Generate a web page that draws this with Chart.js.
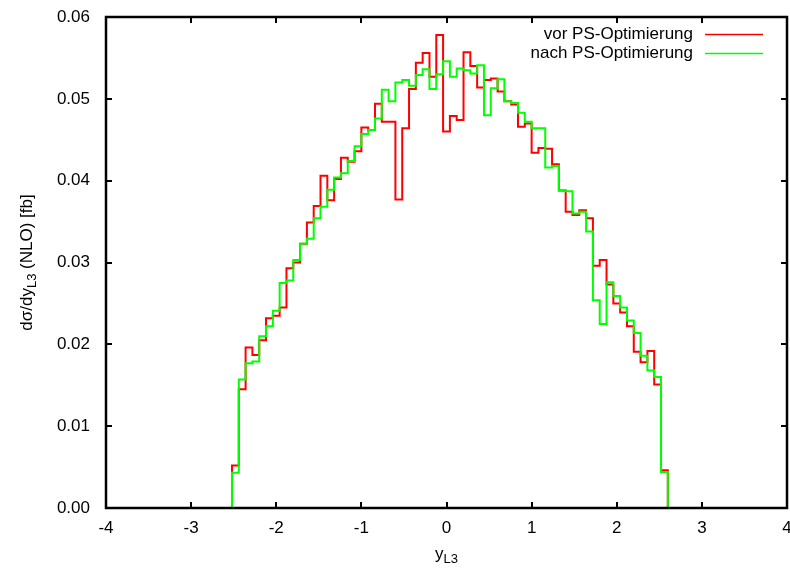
<!DOCTYPE html>
<html>
<head>
<meta charset="utf-8">
<script src="https://cdn.jsdelivr.net/npm/chart.js@4.4.1/dist/chart.umd.min.js"></script>
<style>
  html, body { margin: 0; padding: 0; background: #fff; }
</style>
</head>
<body>
<canvas id="histChart" width="790" height="571"></canvas>
<script>
// ---- data ----
const binStart = -2.52;   // left edge of the first bin
const binWidth = 0.08;

// vor PS-Optimierung (red)
const vorPS = [
  0.0052, 0.0145, 0.0196, 0.0187, 0.0205, 0.0232, 0.0235, 0.0245,
  0.0293, 0.0300, 0.0323, 0.0349, 0.0369, 0.0406, 0.0376, 0.0402,
  0.0428, 0.0423, 0.0436, 0.0465, 0.0462, 0.0494, 0.0472, 0.0472,
  0.0377, 0.0464, 0.0512, 0.0544, 0.0556, 0.0527, 0.0578, 0.0460,
  0.0479, 0.0474, 0.0557, 0.0540, 0.0514, 0.0523, 0.0525, 0.0509,
  0.0497, 0.0493, 0.0466, 0.0470, 0.0434, 0.0440, 0.0439, 0.0420,
  0.0388, 0.0362, 0.0358, 0.0364, 0.0354, 0.0296, 0.0303, 0.0273,
  0.0250, 0.0239, 0.0222, 0.0191, 0.0178, 0.0192, 0.0151, 0.0046
];

// nach PS-Optimierung (green)
const nachPS = [
  0.0043, 0.0157, 0.0177, 0.0179, 0.0210, 0.0222, 0.0241, 0.0275,
  0.0278, 0.0303, 0.0323, 0.0329, 0.0354, 0.0368, 0.0389, 0.0404,
  0.0409, 0.0424, 0.0442, 0.0457, 0.0462, 0.0476, 0.0511, 0.0497,
  0.0520, 0.0523, 0.0516, 0.0529, 0.0536, 0.0512, 0.0530, 0.0546,
  0.0527, 0.0537, 0.0535, 0.0531, 0.0541, 0.0480, 0.0513, 0.0524,
  0.0497, 0.0495, 0.0483, 0.0472, 0.0464, 0.0464, 0.0416, 0.0418,
  0.0388, 0.0387, 0.0360, 0.0362, 0.0338, 0.0254, 0.0225, 0.0276,
  0.0259, 0.0245, 0.0229, 0.0214, 0.0186, 0.0168, 0.0160, 0.0044
];

const seriesLabels = ["vor PS-Optimierung", "nach PS-Optimierung"];
const xTicks = [-4, -3, -2, -1, 0, 1, 2, 3, 4];
const yTicks = [0, 0.01, 0.02, 0.03, 0.04, 0.05, 0.06];

const FONT = "'Liberation Sans', Arial, Helvetica, sans-serif";
const FSIZE = 17;

// histogram outline: each point is a bin's left edge; the last point closes the last bin at 0
function histPoints(values) {
  const pts = values.map((v, i) => ({ x: binStart + i * binWidth, y: v }));
  pts.unshift({ x: binStart, y: 0 });
  pts.push({ x: binStart + values.length * binWidth, y: values[values.length - 1] });
  pts.push({ x: binStart + values.length * binWidth, y: 0 });
  return pts;
}

// gnuplot-like frame, inward ticks, legend and axis titles with subscripts
const gnuplotLook = {
  id: "gnuplotLook",
  afterDatasetsDraw(chart) {
    const { ctx, chartArea: a, scales } = chart;
    const tl = 6;
    ctx.save();
    ctx.strokeStyle = "#000";
    ctx.lineWidth = 2;
    ctx.beginPath();
    xTicks.forEach(v => {
      const px = Math.round(scales.x.getPixelForValue(v));
      ctx.moveTo(px, a.bottom); ctx.lineTo(px, a.bottom - tl);
      ctx.moveTo(px, a.top);    ctx.lineTo(px, a.top + tl);
    });
    yTicks.forEach(v => {
      const py = Math.round(scales.y.getPixelForValue(v));
      ctx.moveTo(a.left, py);  ctx.lineTo(a.left + tl, py);
      ctx.moveTo(a.right, py); ctx.lineTo(a.right - tl, py);
    });
    ctx.stroke();
    ctx.lineWidth = 2.5;
    ctx.strokeRect(a.left, a.top, a.right - a.left, a.bottom - a.top);

    // legend
    ctx.font = FSIZE + "px " + FONT;
    ctx.textBaseline = "middle";
    ctx.textAlign = "right";
    chart.data.datasets.forEach((ds, i) => {
      const y = 34 + i * 19;
      ctx.fillStyle = "#000";
      ctx.fillText(ds.label, 693, y);
      ctx.strokeStyle = ds.borderColor;
      ctx.lineWidth = 1.5;
      ctx.beginPath();
      ctx.moveTo(705, y + 0.5); ctx.lineTo(763, y + 0.5);
      ctx.stroke();
    });

    // axis titles
    const sub = Math.round(FSIZE * 0.75) + "px " + FONT;
    const main = FSIZE + "px " + FONT;
    function subText(parts, cx, cy) {
      ctx.textAlign = "left";
      ctx.textBaseline = "middle";
      let total = 0;
      parts.forEach(p => { ctx.font = p.sub ? sub : main; total += ctx.measureText(p.t).width; });
      let x = cx - total / 2;
      parts.forEach(p => {
        ctx.font = p.sub ? sub : main;
        ctx.fillText(p.t, x, cy + (p.sub ? 5 : 0));
        x += ctx.measureText(p.t).width;
      });
    }
    ctx.fillStyle = "#000";
    subText([{ t: "y" }, { t: "L3", sub: true }], scales.x.getPixelForValue(0), 554);
    ctx.save();
    ctx.translate(27, (a.top + a.bottom) / 2);
    ctx.rotate(-Math.PI / 2);
    subText([{ t: "dσ/dy" }, { t: "L3", sub: true }, { t: " (NLO) [fb]" }], 0, 0);
    ctx.restore();
    ctx.restore();
  }
};

const ctx = document.getElementById("histChart").getContext("2d");
new Chart(ctx, {
  type: "line",
  data: {
    datasets: [
      {
        label: seriesLabels[0],
        data: histPoints(vorPS),
        borderColor: "#ff0000",
        borderWidth: 2,
        stepped: "before",
        pointRadius: 0,
        fill: false,
        order: 1
      },
      {
        label: seriesLabels[1],
        data: histPoints(nachPS),
        borderColor: "#00ff00",
        borderWidth: 2,
        stepped: "before",
        pointRadius: 0,
        fill: false,
        order: 0
      }
    ]
  },
  options: {
    responsive: false,
    animation: false,
    layout: { padding: { top: 17, right: 3, left: 0, bottom: 0 } },
    plugins: { legend: { display: false }, tooltip: { enabled: false } },
    scales: {
      x: {
        type: "linear",
        min: -4, max: 4,
        afterBuildTicks: s => { s.ticks = xTicks.map(v => ({ value: v })); },
        afterFit: s => { s.height = 63; s.paddingLeft = 0; s.paddingRight = 0; },
        grid: { display: false, drawTicks: false },
        border: { display: false },
        ticks: { color: "#000", font: { family: FONT, size: FSIZE }, padding: 10, maxRotation: 0 }
      },
      y: {
        type: "linear",
        min: 0, max: 0.06,
        afterBuildTicks: s => { s.ticks = yTicks.map(v => ({ value: v })); },
        afterFit: s => { s.width = 106; s.paddingTop = 0; s.paddingBottom = 0; },
        grid: { display: false, drawTicks: false },
        border: { display: false },
        ticks: { color: "#000", font: { family: FONT, size: FSIZE }, padding: 16,
                 callback: v => v.toFixed(2) }
      }
    }
  },
  plugins: [gnuplotLook]
});
</script>
</body>
</html>
